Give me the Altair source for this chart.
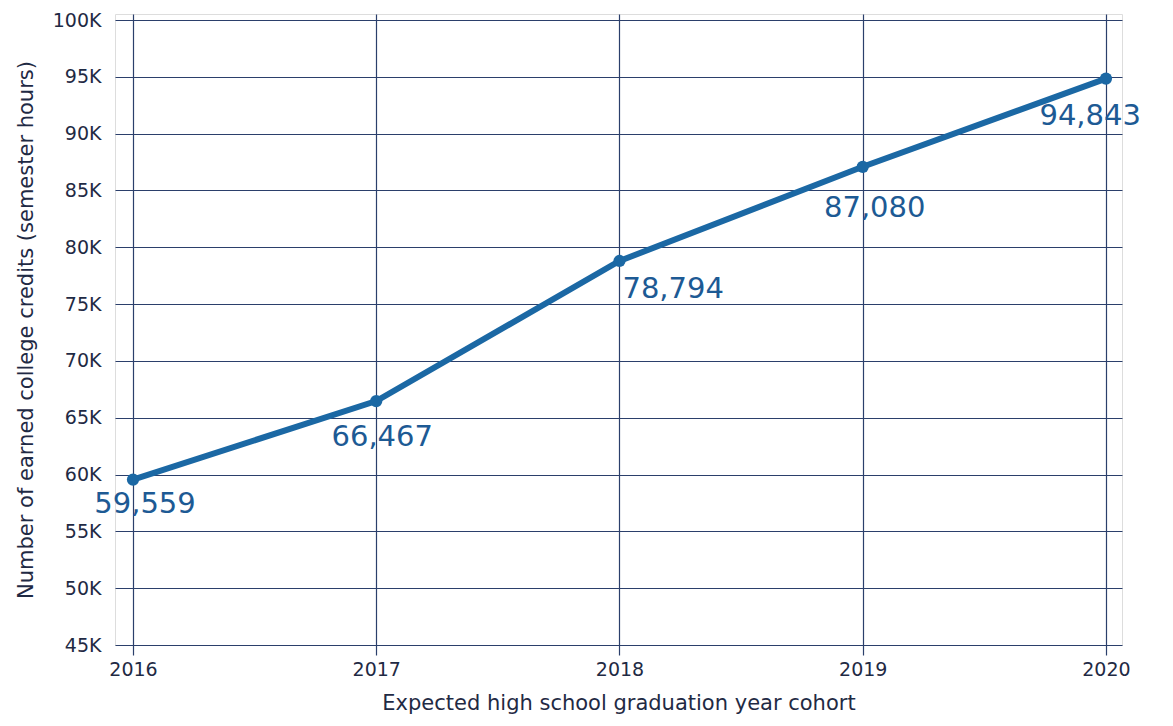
import altair as alt
import pandas as pd

years = [2016, 2017, 2018, 2019, 2020]
credits = [59559, 66467, 78794, 87080, 94843]
labels = ["59,559", "66,467", "78,794", "87,080", "94,843"]
y_ticks = [45000, 50000, 55000, 60000, 65000, 70000, 75000, 80000, 85000, 90000, 95000, 100000]

df = pd.DataFrame({"year": years, "credits": credits, "label": labels})

GRID = "#2b3f6b"
LINE = "#1b68a4"
LABEL = "#1d5a94"
TICKTXT = "#1f2a44"
FONT = "DejaVu Sans"

x = alt.X("year:Q",
          scale=alt.Scale(domain=[2015.926, 2020.066], nice=False, zero=False),
          axis=alt.Axis(values=years, format="d", title="Expected high school graduation year cohort",
                        grid=True, gridColor=GRID, gridWidth=1.2, gridOpacity=1,
                        domain=False, ticks=True, tickSize=10, tickColor=GRID, tickWidth=1.2,
                        labelFont=FONT, labelFontSize=19, labelColor=TICKTXT, labelPadding=5,
                        titleFont=FONT, titleFontSize=21, titleFontWeight="normal", titleColor=TICKTXT,
                        titlePadding=13))
y = alt.Y("credits:Q",
          scale=alt.Scale(domain=[45000, 100528], nice=False, zero=False),
          axis=alt.Axis(values=y_ticks, labelExpr="datum.value/1000 + 'K'",
                        title="Number of earned college credits (semester hours)",
                        grid=True, gridColor=GRID, gridWidth=1.2, gridOpacity=1,
                        domain=False, ticks=False, labelPadding=14,
                        labelFont=FONT, labelFontSize=19, labelColor=TICKTXT,
                        titleFont=FONT, titleFontSize=21, titleFontWeight="normal", titleColor=TICKTXT,
                        titlePadding=16))

base = alt.Chart(df).encode(x=x, y=y)

line = base.mark_line(color=LINE, strokeWidth=6)
points = base.mark_circle(color=LINE, size=150, opacity=1)


def label_layer(yr, align, dx, dy):
    return base.transform_filter(f"datum.year == {yr}").mark_text(
        font=FONT, fontSize=29, color=LABEL, align=align, baseline="middle", dx=dx, dy=dy
    ).encode(text="label:N")


texts = [
    label_layer(2016, "center", 12, 24),
    label_layer(2017, "center", 6, 36),
    label_layer(2018, "left", 3, 28),
    label_layer(2019, "center", 12, 41),
    label_layer(2020, "right", 35, 37),
]

chart = alt.layer(line, points, *texts).properties(
    width=1007, height=631,
    autosize=alt.AutoSizeParams(type="none"),
    padding={"left": 107, "top": 6, "right": 40, "bottom": 80},
).configure_view(stroke=None).configure(background="white")

chart.save("out.html", embed_options={"renderer": "svg", "actions": False})
